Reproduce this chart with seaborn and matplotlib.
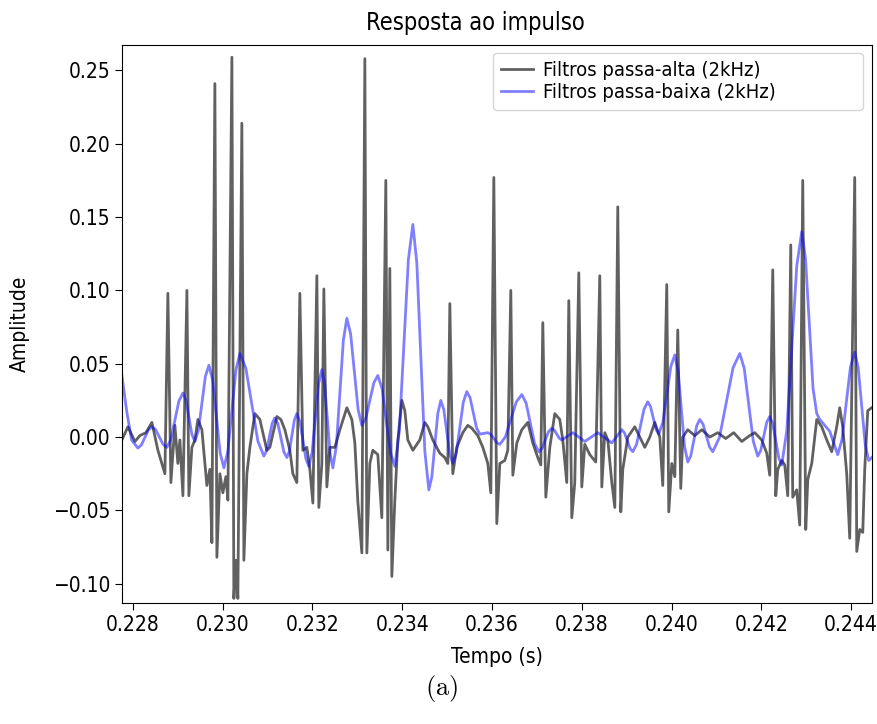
import numpy as np
import matplotlib
matplotlib.use("Agg")
import matplotlib.pyplot as plt
from matplotlib.ticker import MultipleLocator, FuncFormatter
import seaborn as sns

# ------------------------------------------------------------
# dados (tempo em ms, amplitude)
# ------------------------------------------------------------
t_alta_ms = [
    227.755, 227.889, 228.045, 228.156, 228.290, 228.423, 228.557, 228.713, 228.779, 228.846,
    228.935, 229.002, 229.047, 229.114, 229.203, 229.247, 229.314, 229.381, 229.448, 229.537,
    229.648, 229.715, 229.759, 229.826, 229.871, 229.938, 230.004, 230.071, 230.116, 230.205,
    230.249, 230.294, 230.338, 230.427, 230.472, 230.539, 230.606, 230.717, 230.828, 230.984,
    231.051, 231.207, 231.296, 231.385, 231.496, 231.563, 231.652, 231.719, 231.786, 231.875,
    231.942, 232.009, 232.098, 232.142, 232.209, 232.254, 232.320, 232.387, 232.499, 232.610,
    232.766, 232.877, 232.944, 233.011, 233.100, 233.167, 233.211, 233.278, 233.345, 233.456,
    233.545, 233.634, 233.679, 233.723, 233.768, 233.835, 233.902, 233.991, 234.057, 234.124,
    234.236, 234.391, 234.503, 234.570, 234.681, 234.837, 234.948, 235.015, 235.060, 235.126,
    235.215, 235.349, 235.460, 235.550, 235.683, 235.795, 235.906, 235.973, 236.040, 236.106,
    236.173, 236.284, 236.351, 236.418, 236.463, 236.552, 236.663, 236.797, 236.908, 237.019,
    237.086, 237.131, 237.198, 237.287, 237.398, 237.509, 237.576, 237.665, 237.710, 237.777,
    237.843, 237.933, 237.999, 238.066, 238.178, 238.311, 238.400, 238.445, 238.512, 238.579,
    238.668, 238.735, 238.801, 238.868, 238.913, 239.024, 239.180, 239.291, 239.403, 239.514,
    239.625, 239.737, 239.803, 239.892, 239.937, 240.004, 240.071, 240.137, 240.204, 240.249,
    240.360, 240.516, 240.672, 240.850, 241.028, 241.206, 241.384, 241.563, 241.741, 241.852,
    242.008, 242.119, 242.186, 242.253, 242.320, 242.365, 242.454, 242.520, 242.587, 242.654,
    242.698, 242.787, 242.854, 242.921, 242.988, 243.033, 243.122, 243.233, 243.344, 243.456,
    243.567, 243.678, 243.745, 243.812, 243.901, 243.968, 244.079, 244.124, 244.191, 244.258,
    244.302, 244.369, 244.458,
]
amp_alta = [
    -0.002, 0.007, -0.003, 0.001, 0.003, 0.010, -0.009, -0.025, 0.098, -0.031,
    0.008, -0.018, -0.002, -0.040, 0.100, -0.040, -0.007, -0.002, 0.012, 0.005,
    -0.033, -0.022, -0.072, 0.241, -0.082, -0.025, -0.038, -0.027, -0.043, 0.259,
    -0.110, -0.084, -0.110, 0.214, -0.084, -0.025, -0.007, 0.016, 0.012, -0.009,
    -0.007, 0.014, 0.012, 0.005, -0.009, -0.025, -0.031, 0.098, -0.009, -0.007,
    -0.022, -0.045, 0.110, -0.048, -0.018, 0.101, -0.034, -0.007, -0.007, 0.005,
    0.020, 0.012, -0.004, -0.044, -0.079, 0.258, -0.079, -0.018, -0.009, -0.012,
    -0.055, 0.175, -0.077, 0.115, -0.095, -0.043, -0.002, 0.025, 0.018, -0.002,
    -0.009, -0.002, 0.010, 0.007, -0.002, -0.011, -0.014, -0.018, 0.091, -0.025,
    -0.007, 0.003, 0.008, 0.006, 0.001, -0.007, -0.018, -0.038, 0.177, -0.059,
    -0.018, -0.016, -0.009, 0.100, -0.026, -0.004, 0.005, 0.010, -0.004, -0.014,
    -0.019, 0.078, -0.041, -0.007, 0.016, 0.012, -0.002, -0.031, 0.093, -0.055,
    -0.031, 0.112, -0.034, -0.005, -0.012, -0.017, 0.110, -0.034, 0.003, -0.002,
    -0.031, -0.048, 0.157, -0.051, -0.022, 0.000, 0.007, 0.000, -0.007, 0.000,
    0.010, 0.000, -0.033, 0.104, -0.051, -0.018, -0.027, 0.073, -0.035, 0.000,
    0.005, 0.001, 0.005, 0.000, 0.003, -0.001, 0.003, -0.003, 0.001, 0.003,
    -0.002, -0.011, -0.026, 0.114, -0.040, -0.022, -0.016, -0.019, -0.040, 0.131,
    -0.041, -0.036, -0.060, 0.175, -0.063, -0.029, -0.018, 0.012, 0.007, -0.002,
    -0.010, 0.007, 0.020, 0.007, -0.025, -0.069, 0.177, -0.078, -0.063, -0.065,
    -0.022, 0.018, 0.020,
]

t_baixa_ms = [
    227.755, 227.860, 227.971, 228.111, 228.189, 228.345, 228.423, 228.507,
    228.673, 228.757, 228.846, 229.025, 229.114, 229.181, 229.314, 229.381,
    229.459, 229.615, 229.693, 229.777, 229.943, 230.027, 230.116, 230.294,
    230.383, 230.517, 230.784, 230.917, 230.978, 231.101, 231.162, 231.229,
    231.363, 231.430, 231.486, 231.597, 231.652, 231.719, 231.853, 231.920,
    231.992, 232.137, 232.209, 232.270, 232.393, 232.454, 232.532, 232.688,
    232.766, 232.850, 233.017, 233.100, 233.189, 233.367, 233.456, 233.551,
    233.740, 233.835, 233.935, 234.136, 234.236, 234.325, 234.503, 234.592,
    234.659, 234.792, 234.859, 234.926, 235.059, 235.126, 235.204, 235.360,
    235.438, 235.511, 235.656, 235.728, 235.906, 235.973, 236.106, 236.173,
    236.296, 236.541, 236.663, 236.758, 236.947, 237.042, 237.114, 237.259,
    237.331, 237.387, 237.498, 237.554, 237.799, 238.066, 238.356, 238.668,
    238.890, 238.951, 239.074, 239.135, 239.219, 239.385, 239.469, 239.530,
    239.653, 239.714, 239.803, 239.982, 240.071, 240.143, 240.288, 240.360,
    240.427, 240.560, 240.627, 240.700, 240.845, 240.917, 241.067, 241.368,
    241.518, 241.618, 241.819, 241.919, 241.986, 242.119, 242.186, 242.253,
    242.387, 242.454, 242.565, 242.788, 242.899, 242.983, 243.150, 243.233,
    243.300, 243.522, 243.700, 243.795, 243.984, 244.079, 244.157, 244.313,
    244.391, 244.458,
]
amp_baixa = [
    0.042, 0.018, -0.002, -0.0075, -0.0054, 0.0049, 0.007, 0.005,
    -0.005, -0.007, -0.0016, 0.0246, 0.030, 0.0252, 0.0018, -0.003,
    0.0046, 0.0414, 0.049, 0.0388, -0.0108, -0.021, -0.0096, 0.0456,
    0.057, 0.0468, -0.0028, -0.013, -0.0092, 0.0092, 0.013, 0.0091,
    -0.0101, -0.014, -0.0096, 0.0116, 0.016, 0.0107, -0.0147, -0.020,
    -0.0104, 0.0364, 0.046, 0.0362, -0.0112, -0.021, -0.0061, 0.0661,
    0.081, 0.0703, 0.0187, 0.008, 0.013, 0.037, 0.042, 0.0329,
    -0.011, -0.020, 0.0041, 0.1209, 0.145, 0.1186, -0.0096, -0.036,
    -0.0271, 0.0161, 0.025, 0.0187, -0.0117, -0.018, -0.0108, 0.0238,
    0.031, 0.0268, 0.0062, 0.002, 0.003, 0.0018, -0.0038, -0.005,
    0.000, 0.024, 0.029, 0.0233, -0.0043, -0.010, -0.0077, 0.0037,
    0.006, 0.0048, -0.0008, -0.002, 0.003, -0.003, 0.003, -0.004,
    0.005, 0.0028, -0.0078, -0.010, -0.005, 0.019, 0.024, 0.0208,
    0.0052, 0.002, 0.0099, 0.0481, 0.056, 0.0453, -0.0063, -0.017,
    -0.0128, 0.0078, 0.012, 0.0088, -0.0068, -0.010, -0.0002, 0.0472,
    0.057, 0.0468, -0.0028, -0.013, -0.0091, 0.0101, 0.014, 0.0092,
    -0.0142, -0.019, 0.0042, 0.1168, 0.140, 0.1217, 0.0333, 0.016,
    0.012, 0.004, -0.012, -0.0018, 0.0478, 0.058, 0.0472, -0.0052,
    -0.016, -0.014,
]

rotulo_alta = "Filtros passa-alta (2kHz)"
rotulo_baixa = "Filtros passa-baixa (2kHz)"

# ------------------------------------------------------------
# figura
# ------------------------------------------------------------
plt.rcParams["mathtext.fontset"] = "cm"
plt.rcParams["font.family"] = ["DejaVu Sans"]
plt.rcParams["font.stretch"] = "condensed"

fig = plt.figure(figsize=(8.77, 7.24), dpi=100)
ax = fig.add_axes([0.139, 0.167, 0.855, 0.771])

t_alta = np.array(t_alta_ms) / 1000.0
t_baixa = np.array(t_baixa_ms) / 1000.0

sns.lineplot(x=t_alta, y=amp_alta, ax=ax, color="k", alpha=0.62, lw=2,
             label=rotulo_alta, estimator=None, sort=False)
sns.lineplot(x=t_baixa, y=amp_baixa, ax=ax, color="b", alpha=0.5, lw=2,
             label=rotulo_baixa, estimator=None, sort=False)

ax.set_xlim(0.227755, 0.244458)
ax.set_ylim(-0.1132, 0.2674)
ax.xaxis.set_major_locator(MultipleLocator(0.002))
ax.xaxis.set_major_formatter(FuncFormatter(lambda v, p: f"{v:.3f}".replace("-", "\u2212")))
ax.yaxis.set_major_locator(MultipleLocator(0.05))
ax.yaxis.set_major_formatter(FuncFormatter(lambda v, p: f"{v:.2f}".replace("-", "\u2212")))
ax.tick_params(labelsize=15, length=5)

titulo = ax.set_title("Resposta ao impulso", fontsize=17, pad=11)
titulo.set_x(0.472)
ax.set_xlabel("Tempo (s)", fontsize=15)
ax.set_ylabel("Amplitude", fontsize=15)
ax.xaxis.set_label_coords(0.5, -0.078)
ax.yaxis.set_label_coords(-0.123, 0.5)
ax.legend(loc="upper left", bbox_to_anchor=(0.495, 0.0, 0.493, 0.986),
          mode="expand", borderaxespad=0, fontsize=14.5,
          handlelength=1.6, handletextpad=0.5, labelspacing=0.15)

fig.text(0.503, 0.04, r"$\mathrm{(a)}$", fontsize=19, ha="center")

plt.savefig("out.png", dpi=100)
